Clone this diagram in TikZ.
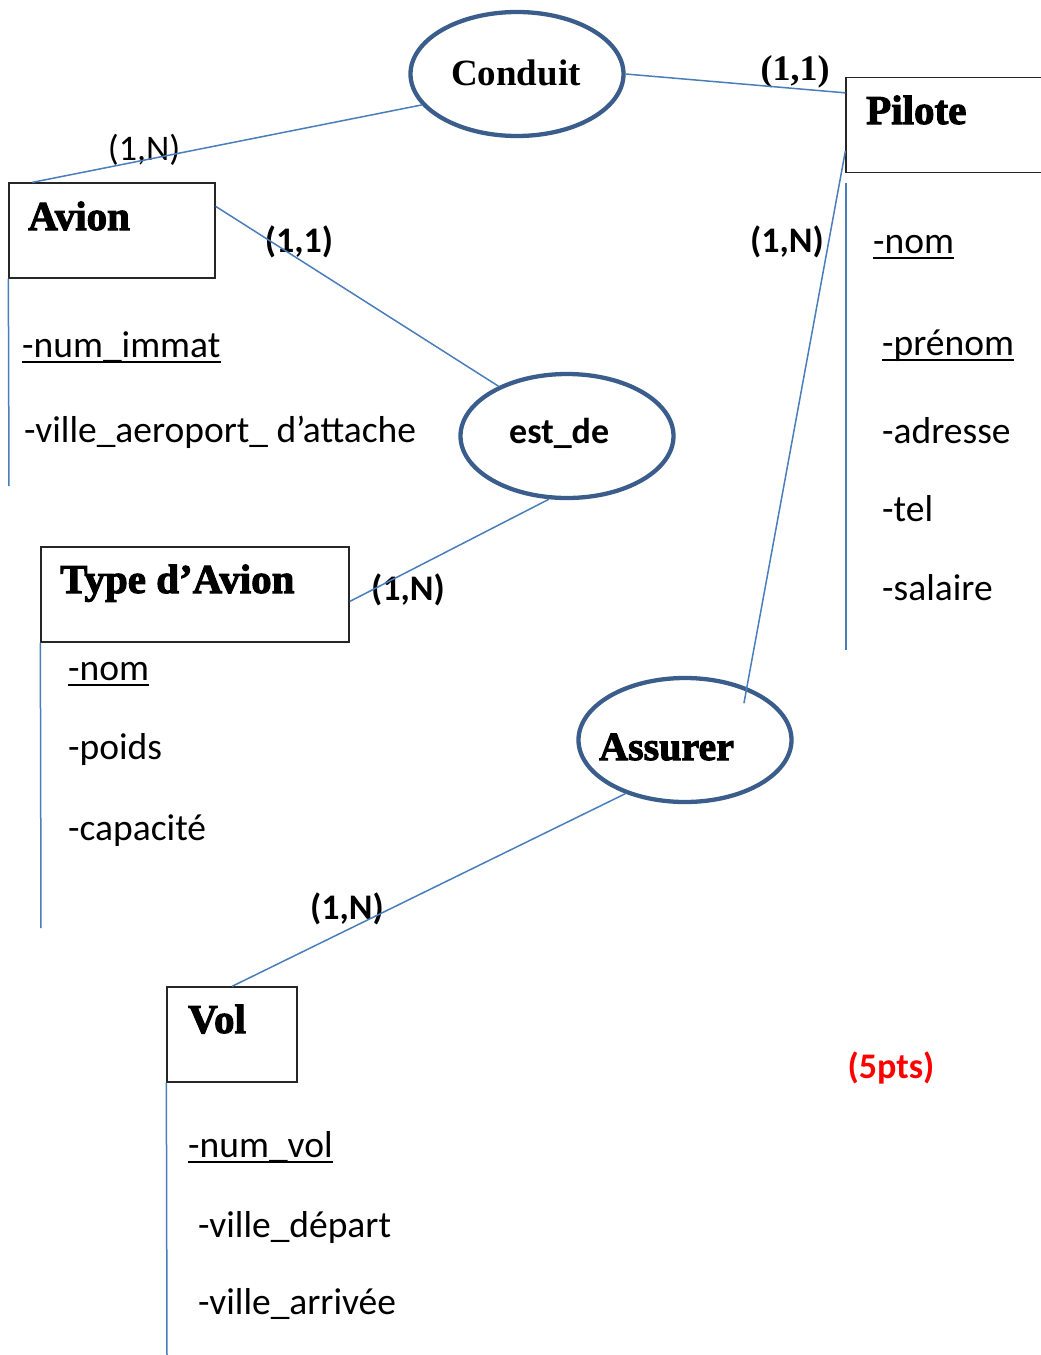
\documentclass[tikz,border=0pt]{standalone}
\usepackage{fontspec}
\setmainfont{Carlito}
\newfontfamily\entityfont{Liberation Serif}[BoldFeatures={FakeBold=2.5}]
\newfontfamily\cardfont{Liberation Serif}
\usepackage{tikz}
\usetikzlibrary{shapes.geometric, positioning, calc}
\definecolor{linkblue}{HTML}{4A7EBB}
\definecolor{ovalblue}{HTML}{3A5D8C}

\begin{document}
\begin{tikzpicture}[
		x=1pt, y=-1pt,
		% Define styles for the entities, associations and labels
		entity_box/.style={
			rectangle,
			draw=black!85,
			line width=1.3pt,
			minimum height=95pt,
			inner sep=0pt
		},
		entity_title/.style={
			anchor=base west,
			inner sep=0pt,
			font=\entityfont\bfseries\fontsize{41}{44}\selectfont
		},
		assoc_node/.style={
			ellipse,
			draw=ovalblue,
			line width=4.3pt,
			minimum width=213pt,
			minimum height=124pt,
			inner sep=0pt
		},
		attr_node/.style={
			anchor=base west,
			inner sep=0pt,
			font=\fontsize{37.5}{40}\selectfont
		},
		card_label/.style={
			inner sep=0pt,
			font=\bfseries\fontsize{36}{40}\selectfont
		},
		link_line/.style={
			draw=linkblue,
			line width=1.5pt
		},
		key_line/.style={
			draw=black,
			line width=2.6pt
		},
		]
		\useasboundingbox (0,0) rectangle (1041,1355);
		\clip (0,0) rectangle (1041,1355);
		
		% ----- Nodes -----
		% Entities
		\node[entity_box, minimum width=206pt] (avion) at (112,230.5) {};
		\node[entity_box, minimum width=200pt] (pilote) at (946,125) {};
		\node[entity_box, minimum width=308pt] (type_avion) at (195,594.5) {};
		\node[entity_box, minimum width=130pt] (vol) at (232,1034.5) {};
		
		\node[entity_title] (avion_title) at (28,230) {Avion};
		\node[entity_title] (pilote_title) at (866,124) {Pilote};
		\node[entity_title] (type_title) at (60,593) {Type d’Avion};
		\node[entity_title] (vol_title) at (188,1033) {Vol};
		
		% Associations
		\node[assoc_node] (conduit) at (517,74) {};
		\node[assoc_node] (est_de) at (567,436) {};
		\node[assoc_node] (assurer) at (685,740) {};
		
		\node[anchor=base west, inner sep=0pt, font=\cardfont\bfseries\fontsize{37}{40}\selectfont] (conduit_title) at (451,85) {Conduit};
		\node[anchor=base west, inner sep=0pt, font=\bfseries\fontsize{36}{40}\selectfont] (est_de_title) at (509,443) {est\_de};
		\node[entity_title, font=\entityfont\bfseries\fontsize{40}{44}\selectfont] (assurer_title) at (599,760) {Assurer};
		
		% Attributes of Avion
		\node[attr_node] (num_immat) at (22,357) {-num\_immat};
		\node[attr_node] (ville_attache) at (24,442) {-ville\_aeroport\_ d’attache};
		
		% Attributes of Pilote
		\node[attr_node] (nom_pilote) at (873,253) {-nom};
		\node[attr_node] (prenom) at (882,355) {-prénom};
		\node[attr_node] (adresse) at (882,443) {-adresse};
		\node[attr_node] (tel) at (882,521) {-tel};
		\node[attr_node] (salaire) at (882,600) {-salaire};
		
		% Attributes of Type d'Avion
		\node[attr_node] (nom_type) at (68,680) {-nom};
		\node[attr_node] (poids) at (68,759) {-poids};
		\node[attr_node] (capacite) at (68,840) {-capacité};
		
		% Attributes of Vol
		\node[attr_node] (num_vol) at (188,1157) {-num\_vol};
		\node[attr_node] (ville_depart) at (198,1237) {-ville\_départ};
		\node[attr_node] (ville_arrivee) at (198,1314) {-ville\_arrivée};
		
		% Cardinalities
		\node[card_label, font=\fontsize{36}{40}\selectfont] (card_avion_conduit) at (144,150) {(1,N)};
		\node[card_label, font=\cardfont\bfseries\fontsize{36}{40}\selectfont] (card_pilote_conduit) at (795,72) {(1,1)};
		\node[card_label] (card_avion_est) at (299,242) {(1,1)};
		\node[card_label] (card_pilote_assurer) at (787,242) {(1,N)};
		\node[card_label] (card_type_est) at (408,590) {(1,N)};
		\node[card_label] (card_vol_assurer) at (347,909) {(1,N)};
		\node[card_label, text=red] (points) at (891,1068) {(5pts)};
		
		% Free ends of the attribute bars
		\coordinate (avion_end) at (9,486);
		\coordinate (pilote_top) at (846,183);
		\coordinate (pilote_end) at (846,650);
		\coordinate (type_end) at (41,928);
		\coordinate (vol_end) at (167,1355);
		
		% ----- Lines -----
		% Links between entities and associations
		\draw[link_line] (conduit.198) -- ([xshift=24pt]avion.north west);
		\draw[link_line] (conduit.east) -- ([yshift=-16pt]pilote.north west);
		\draw[link_line] ([yshift=-24pt]avion.north east) -- (est_de.144);
		\draw[link_line] (est_de.254) -- ([yshift=-7pt]type_avion.east);
		\draw[link_line] ([yshift=-26pt]pilote.west) -- ($(assurer.center)!0.79!(assurer.32)$);
		\draw[link_line] (assurer.222) -- (vol.north);
		
		% Attribute bars
		\draw[link_line] (avion.south west) -- (avion_end);
		\draw[link_line] (pilote_top) -- (pilote_end);
		\draw[link_line] (type_avion.south west) -- (type_end);
		\draw[link_line] (vol.south west) -- (vol_end);
		
		% Underlined identifiers
		\foreach \key in {num_immat, nom_pilote, prenom, nom_type, num_vol}
			\draw[key_line] ([yshift=-5pt]\key.base west) -- ([yshift=-5pt]\key.base east);
		
	\end{tikzpicture}
\end{document}
